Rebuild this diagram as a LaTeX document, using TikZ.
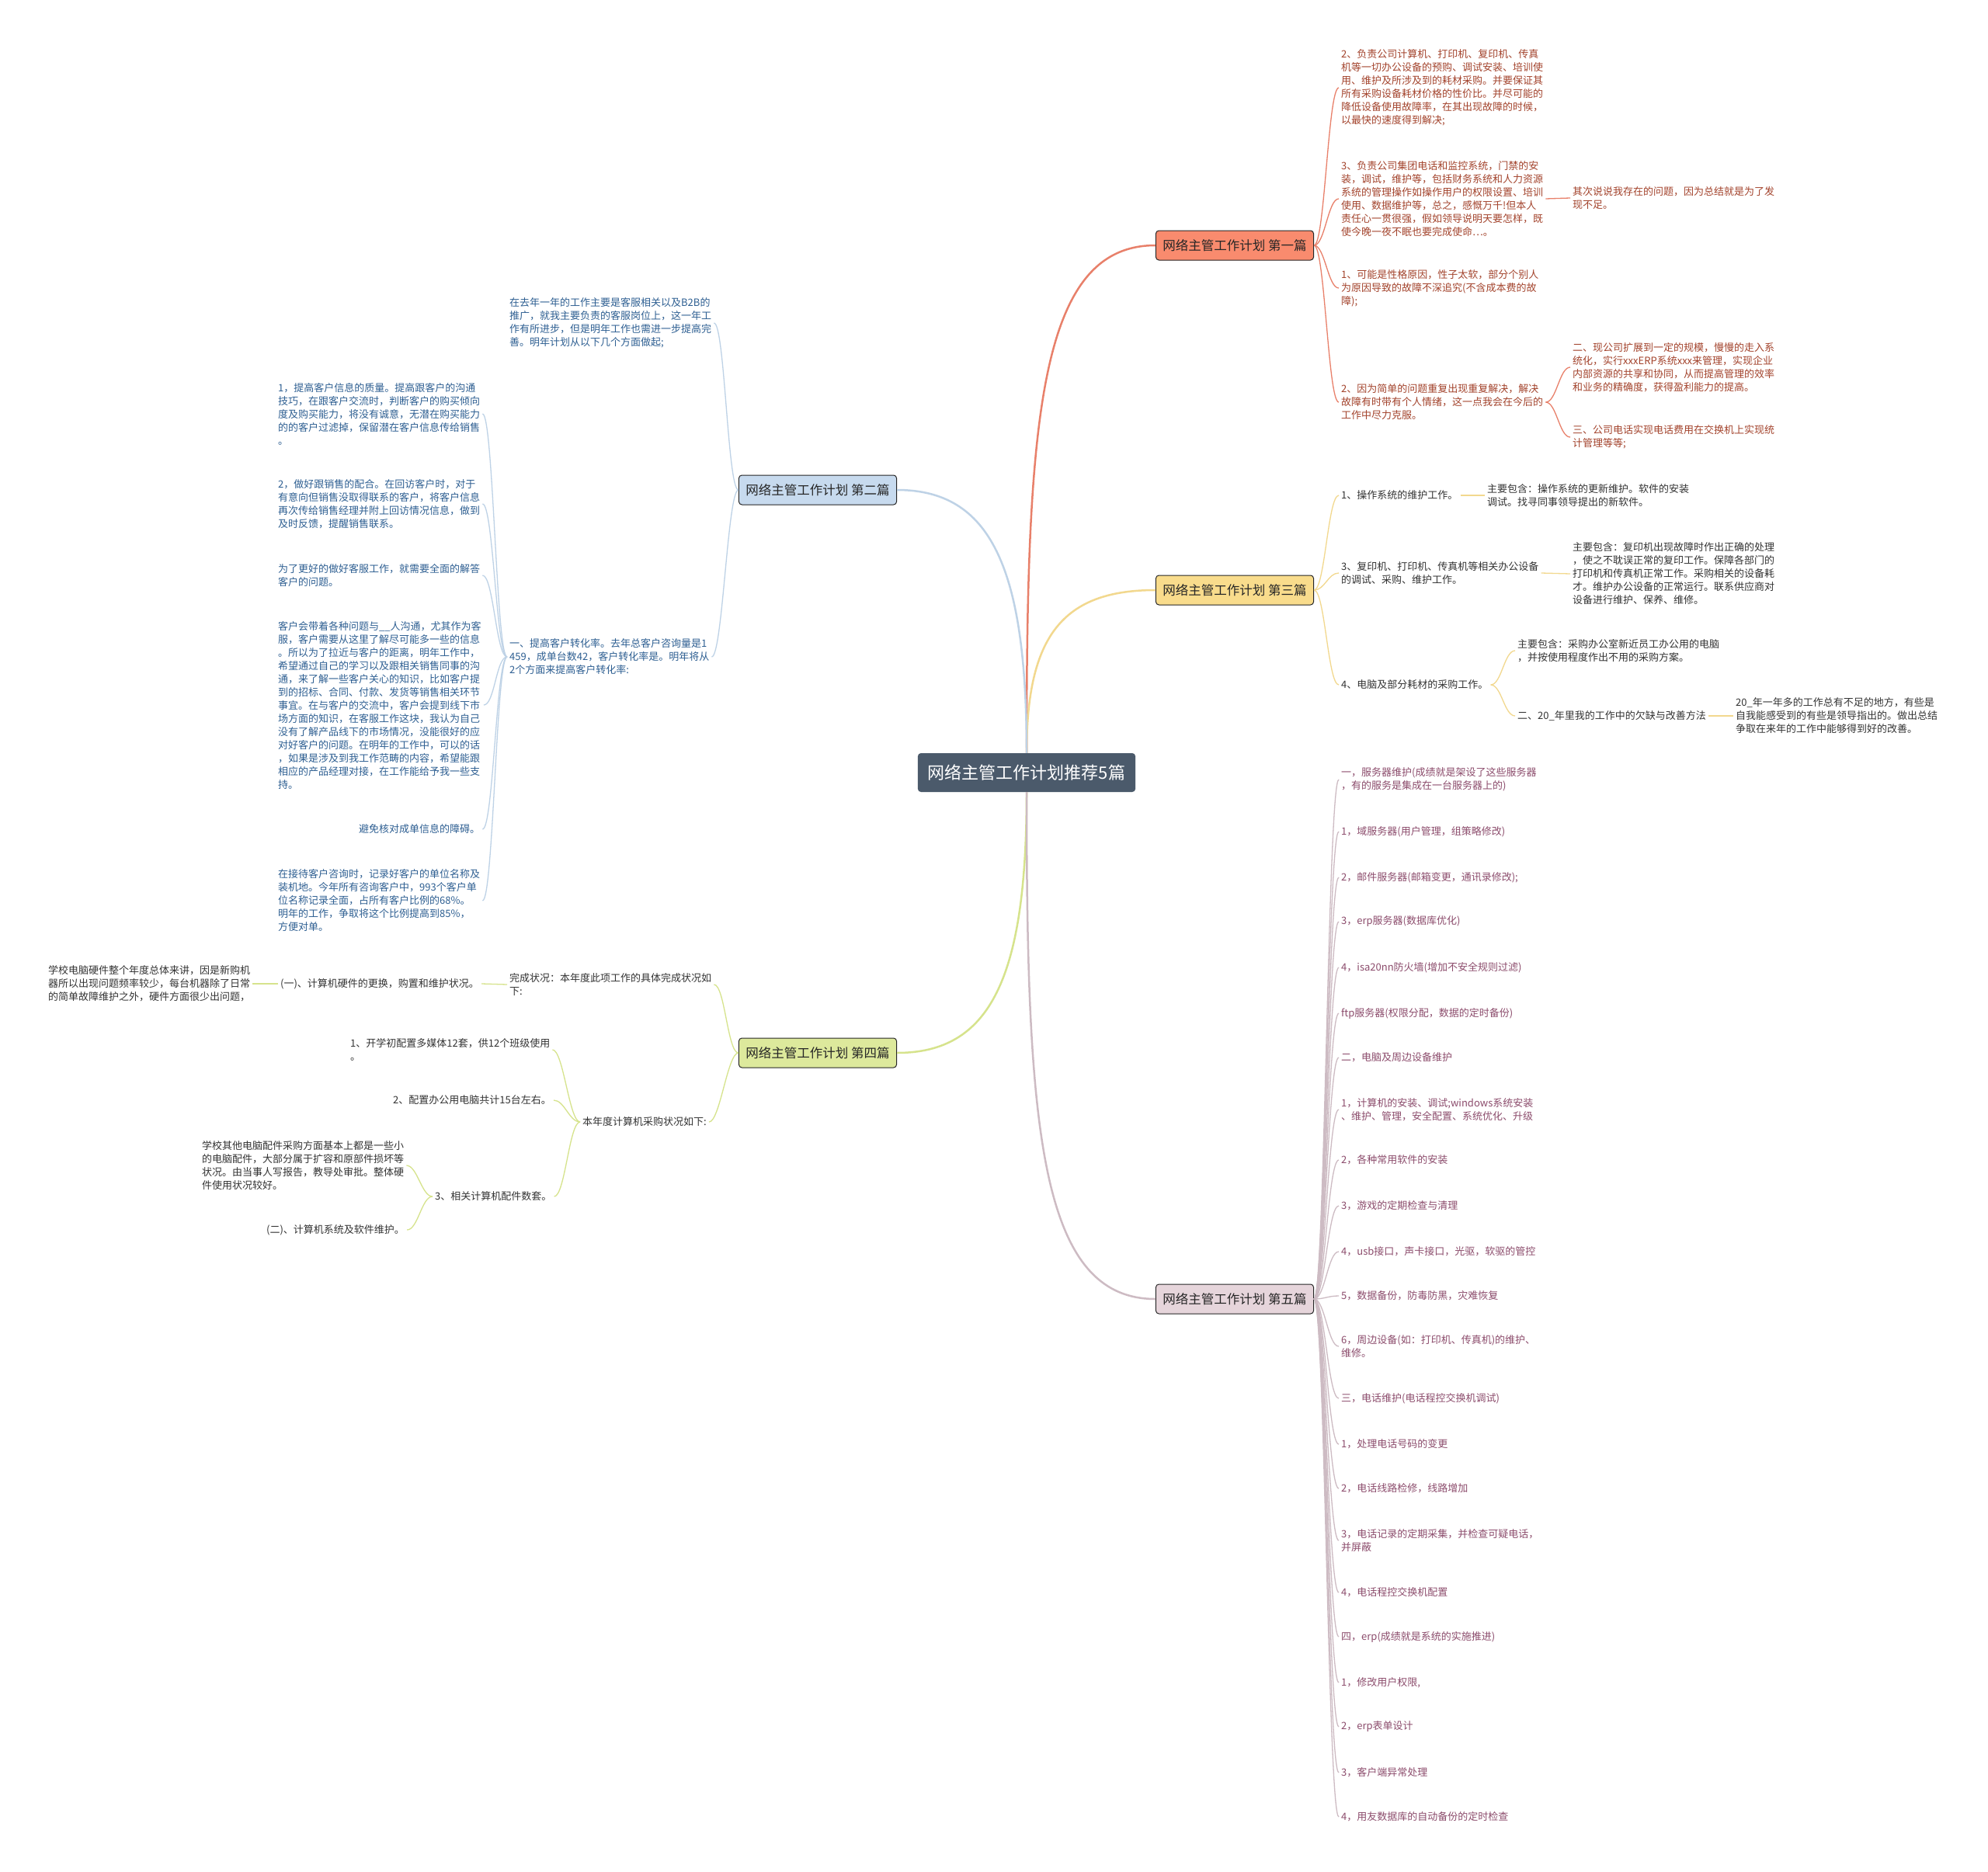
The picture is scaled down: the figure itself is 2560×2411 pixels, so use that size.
\documentclass[tikz,border=0pt]{standalone}
\usepackage{fontspec}
\newfontfamily\cjk{Noto Sans CJK SC}
\usetikzlibrary{positioning,calc}

\definecolor{rootfill}{HTML}{4B5A6B}
\definecolor{onefill}{HTML}{F98B6E}
\definecolor{twofill}{HTML}{C7DAEE}
\definecolor{threefill}{HTML}{F9DC8C}
\definecolor{fourfill}{HTML}{DDE99C}
\definecolor{fivefill}{HTML}{E6D5DB}
\definecolor{oneline}{HTML}{E8806A}
\definecolor{twoline}{HTML}{BED2E6}
\definecolor{threeline}{HTML}{F2D88E}
\definecolor{fourline}{HTML}{D6E38C}
\definecolor{fiveline}{HTML}{CDBBC3}
\definecolor{onetext}{HTML}{A3432C}
\definecolor{twotext}{HTML}{2E5F92}
\definecolor{darktext}{HTML}{333333}
\definecolor{fivetext}{HTML}{8C4C6C}

\begin{document}
\begin{tikzpicture}[x=1pt, y=-1pt,
  every node/.style={font=\cjk},
  root/.style={fill=rootfill, text=white, rounded corners=4pt, minimum height=50pt, inner xsep=13pt, font=\cjk\fontsize{22}{26}\selectfont},
  topic/.style={draw=black!85, line width=1pt, rounded corners=4pt, minimum height=38pt, inner xsep=9pt, text=black!85, font=\cjk\fontsize{16.5}{20}\selectfont},
  leaf/.style={align=left, inner sep=3pt, anchor=west, font=\cjk\fontsize{13}{17}\selectfont},
  oneleaf/.style={leaf, text=onetext},
  twoleaf/.style={leaf, text=twotext},
  darkleaf/.style={leaf, text=darktext},
  fiveleaf/.style={leaf, text=fivetext},
  main/.style={line width=2.5pt},
  twig/.style={line width=1.3pt},
]
\useasboundingbox[fill=white] (0,0) rectangle (2560,2411);

% centre and the five topics
\node[root] (root) at (1322,995) {网络主管工作计划推荐5篇};
\node[topic, fill=onefill] (one) at (1590,316) {网络主管工作计划 第一篇};
\node[topic, fill=twofill] (two) at (1053,631) {网络主管工作计划 第二篇};
\node[topic, fill=threefill] (three) at (1590,760) {网络主管工作计划 第三篇};
\node[topic, fill=fourfill] (four) at (1053,1356) {网络主管工作计划 第四篇};
\node[topic, fill=fivefill] (five) at (1590,1673) {网络主管工作计划 第五篇};

\draw[oneline, main] (root.north) .. controls +(0,-430) and +(-150,0) .. (one.west);
\draw[threeline, main] (root.north) .. controls +(0,-150) and +(-120,0) .. (three.west);
\draw[twoline, main] (root.north) .. controls +(0,-240) and +(120,0) .. (two.east);
\draw[fourline, main] (root.south) .. controls +(0,240) and +(120,0) .. (four.east);
\draw[fiveline, main] (root.south) .. controls +(0,430) and +(-150,0) .. (five.west);

% first
\node[oneleaf] (duty2) at (1724,113) {2、负责公司计算机、打印机、复印机、传真\\机等一切办公设备的预购、调试安装、培训使\\用、维护及所涉及到的耗材采购。并要保证其\\所有采购设备耗材价格的性价比。并尽可能的\\降低设备使用故障率，在其出现故障的时候，\\以最快的速度得到解决;};
\node[oneleaf] (duty3) at (1724,256) {3、负责公司集团电话和监控系统，门禁的安\\装，调试，维护等，包括财务系统和人力资源\\系统的管理操作如操作用户的权限设置、培训\\使用、数据维护等，总之，感慨万千!但本人\\责任心一贯很强，假如领导说明天要怎样，既\\使今晚一夜不眠也要完成使命…。};
\node[oneleaf] (lack) at (2022,255) {其次说说我存在的问题，因为总结就是为了发\\现不足。};
\node[oneleaf] (soft) at (1724,371) {1、可能是性格原因，性子太软，部分个别人\\为原因导致的故障不深追究(不含成本费的故\\障);};
\node[oneleaf] (mood) at (1724,518) {2、因为简单的问题重复出现重复解决，解决\\故障有时带有个人情绪，这一点我会在今后的\\工作中尽力克服。};
\node[oneleaf] (erp) at (2022,473) {二、现公司扩展到一定的规模，慢慢的走入系\\统化，实行xxxERP系统xxx来管理，实现企业\\内部资源的共享和协同，从而提高管理的效率\\和业务的精确度，获得盈利能力的提高。};
\node[oneleaf] (phone) at (2022,563) {三、公司电话实现电话费用在交换机上实现统\\计管理等等;};

\draw[oneline, twig] (one.east) .. controls +(14,0) and +(-14,0) .. (duty2.west);
\draw[oneline, twig] (one.east) .. controls +(14,0) and +(-14,0) .. (duty3.west);
\draw[oneline, twig] (one.east) .. controls +(14,0) and +(-14,0) .. (soft.west);
\draw[oneline, twig] (one.east) .. controls +(14,0) and +(-14,0) .. (mood.west);
\draw[oneline, twig] (duty3.east) -- (lack.west);
\draw[oneline, twig] (mood.east) .. controls +(14,0) and +(-14,0) .. (erp.west);
\draw[oneline, twig] (mood.east) .. controls +(14,0) and +(-14,0) .. (phone.west);

% third
\node[darkleaf] (os) at (1724,638) {1、操作系统的维护工作。};
\node[darkleaf] (osx) at (1912,638) {主要包含：操作系统的更新维护。软件的安装\\调试。找寻同事领导提出的新软件。};
\node[darkleaf] (copier) at (1724,738) {3、复印机、打印机、传真机等相关办公设备\\的调试、采购、维护工作。};
\node[darkleaf] (copierx) at (2022,739) {主要包含：复印机出现故障时作出正确的处理\\，使之不耽误正常的复印工作。保障各部门的\\打印机和传真机正常工作。采购相关的设备耗\\才。维护办公设备的正常运行。联系供应商对\\设备进行维护、保养、维修。};
\node[darkleaf] (buy) at (1724,882) {4、电脑及部分耗材的采购工作。};
\node[darkleaf] (buyx) at (1951,838) {主要包含：采购办公室新近员工办公用的电脑\\，并按使用程度作出不用的采购方案。};
\node[darkleaf] (fix) at (1951,922) {二、20\_年里我的工作中的欠缺与改善方法};
\node[darkleaf] (fixx) at (2232,922) {20\_年一年多的工作总有不足的地方，有些是\\自我能感受到的有些是领导指出的。做出总结\\争取在来年的工作中能够得到好的改善。};

\draw[threeline, twig] (three.east) .. controls +(14,0) and +(-14,0) .. (os.west);
\draw[threeline, twig] (three.east) .. controls +(14,0) and +(-14,0) .. (copier.west);
\draw[threeline, twig] (three.east) .. controls +(14,0) and +(-14,0) .. (buy.west);
\draw[threeline, twig] (os.east) -- (osx.west);
\draw[threeline, twig] (copier.east) -- (copierx.west);
\draw[threeline, twig] (buy.east) .. controls +(14,0) and +(-14,0) .. (buyx.west);
\draw[threeline, twig] (buy.east) .. controls +(14,0) and +(-14,0) .. (fix.west);
\draw[threeline, twig] (fix.east) -- (fixx.west);

% second
\node[twoleaf] (lastyear) at (653,416) {在去年一年的工作主要是客服相关以及B2B的\\推广，就我主要负责的客服岗位上，这一年工\\作有所进步，但是明年工作也需进一步提高完\\善。明年计划从以下几个方面做起;};
\node[twoleaf] (rate) at (653,846) {一、提高客户转化率。去年总客户咨询量是1\\459，成单台数42，客户转化率是。明年将从\\2个方面来提高客户转化率:};
\node[twoleaf] (quality) at (355,533) {1，提高客户信息的质量。提高跟客户的沟通\\技巧，在跟客户交流时，判断客户的购买倾向\\度及购买能力，将没有诚意，无潜在购买能力\\的的客户过滤掉，保留潜在客户信息传给销售\\。};
\node[twoleaf] (sales) at (355,649) {2，做好跟销售的配合。在回访客户时，对于\\有意向但销售没取得联系的客户，将客户信息\\再次传给销售经理并附上回访情况信息，做到\\及时反馈，提醒销售联系。};
\node[twoleaf] (answer) at (355,741) {为了更好的做好客服工作，就需要全面的解答\\客户的问题。};
\node[twoleaf] (talk) at (355,908) {客户会带着各种问题与\_\_人沟通，尤其作为客\\服，客户需要从这里了解尽可能多一些的信息\\。所以为了拉近与客户的距离，明年工作中，\\希望通过自己的学习以及跟相关销售同事的沟\\通，来了解一些客户关心的知识，比如客户提\\到的招标、合同、付款、发货等销售相关环节\\事宜。在与客户的交流中，客户会提到线下市\\场方面的知识，在客服工作这块，我认为自己\\没有了解产品线下的市场情况，没能很好的应\\对好客户的问题。在明年的工作中，可以的话\\，如果是涉及到我工作范畴的内容，希望能跟\\相应的产品经理对接，在工作能给予我一些支\\持。};
\node[twoleaf] (check) at (459,1068) {避免核对成单信息的障碍。};
\node[twoleaf] (record) at (355,1160) {在接待客户咨询时，记录好客户的单位名称及\\装机地。今年所有咨询客户中，993个客户单\\位名称记录全面，占所有客户比例的68\%。\\明年的工作，争取将这个比例提高到85\%，\\方便对单。};

\draw[twoline, twig] (two.west) .. controls +(-14,0) and +(14,0) .. (lastyear.east);
\draw[twoline, twig] (two.west) .. controls +(-14,0) and +(14,0) .. (rate.east);
\draw[twoline, twig] (rate.west) .. controls +(-14,0) and +(14,0) .. (quality.east);
\draw[twoline, twig] (rate.west) .. controls +(-14,0) and +(14,0) .. (sales.east);
\draw[twoline, twig] (rate.west) .. controls +(-14,0) and +(14,0) .. (answer.east);
\draw[twoline, twig] (rate.west) .. controls +(-14,0) and +(14,0) .. (talk.east);
\draw[twoline, twig] (rate.west) .. controls +(-14,0) and +(14,0) .. (check.east);
\draw[twoline, twig] (rate.west) .. controls +(-14,0) and +(14,0) .. (record.east);

% fourth
\node[darkleaf] (done) at (653,1268) {完成状况：本年度此项工作的具体完成状况如\\下:};
\node[darkleaf] (hard) at (358,1267) {(一)、计算机硬件的更换，购置和维护状况。};
\node[darkleaf] (hardx) at (59,1267) {学校电脑硬件整个年度总体来讲，因是新购机\\器所以出现问题频率较少，每台机器除了日常\\的简单故障维护之外，硬件方面很少出问题，};
\node[darkleaf] (purchase) at (747,1445) {本年度计算机采购状况如下:};
\node[darkleaf] (media) at (448,1352) {1、开学初配置多媒体12套，供12个班级使用\\。};
\node[darkleaf] (office) at (503,1417) {2、配置办公用电脑共计15台左右。};
\node[darkleaf] (parts) at (557,1541) {3、相关计算机配件数套。};
\node[darkleaf] (partsx) at (257,1501) {学校其他电脑配件采购方面基本上都是一些小\\的电脑配件，大部分属于扩容和原部件损坏等\\状况。由当事人写报告，教导处审批。整体硬\\件使用状况较好。};
\node[darkleaf] (system) at (340,1584) {(二)、计算机系统及软件维护。};

\draw[fourline, twig] (four.west) .. controls +(-14,0) and +(14,0) .. (done.east);
\draw[fourline, twig] (four.west) .. controls +(-14,0) and +(14,0) .. (purchase.east);
\draw[fourline, twig] (done.west) -- (hard.east);
\draw[fourline, twig] (hard.west) -- (hardx.east);
\draw[fourline, twig] (purchase.west) .. controls +(-14,0) and +(14,0) .. (media.east);
\draw[fourline, twig] (purchase.west) .. controls +(-14,0) and +(14,0) .. (office.east);
\draw[fourline, twig] (purchase.west) .. controls +(-14,0) and +(14,0) .. (parts.east);
\draw[fourline, twig] (parts.west) .. controls +(-14,0) and +(14,0) .. (partsx.east);
\draw[fourline, twig] (parts.west) .. controls +(-14,0) and +(14,0) .. (system.east);

% fifth
\node[fiveleaf] (e1) at (1724,1004) {一，服务器维护(成绩就是架设了这些服务器\\，有的服务是集成在一台服务器上的)};
\node[fiveleaf] (e2) at (1724,1071) {1，域服务器(用户管理，组策略修改)};
\node[fiveleaf] (e3) at (1724,1130) {2，邮件服务器(邮箱变更，通讯录修改);};
\node[fiveleaf] (e4) at (1724,1187) {3，erp服务器(数据库优化)};
\node[fiveleaf] (e5) at (1724,1246) {4，isa20nn防火墙(增加不安全规则过滤)};
\node[fiveleaf] (e6) at (1724,1305) {ftp服务器(权限分配，数据的定时备份)};
\node[fiveleaf] (e7) at (1724,1362) {二，电脑及周边设备维护};
\node[fiveleaf] (e8) at (1724,1429) {1，计算机的安装、调试;windows系统安装\\、维护、管理，安全配置、系统优化、升级};
\node[fiveleaf] (e9) at (1724,1494) {2，各种常用软件的安装};
\node[fiveleaf] (e10) at (1724,1553) {3，游戏的定期检查与清理};
\node[fiveleaf] (e11) at (1724,1612) {4，usb接口，声卡接口，光驱，软驱的管控};
\node[fiveleaf] (e12) at (1724,1669) {5，数据备份，防毒防黑，灾难恢复};
\node[fiveleaf] (e13) at (1724,1734) {6，周边设备(如：打印机、传真机)的维护、\\维修。};
\node[fiveleaf] (e14) at (1724,1801) {三，电话维护(电话程控交换机调试)};
\node[fiveleaf] (e15) at (1724,1860) {1，处理电话号码的变更};
\node[fiveleaf] (e16) at (1724,1917) {2，电话线路检修，线路增加};
\node[fiveleaf] (e17) at (1724,1984) {3，电话记录的定期采集，并检查可疑电话，\\并屏蔽};
\node[fiveleaf] (e18) at (1724,2051) {4，电话程控交换机配置};
\node[fiveleaf] (e19) at (1724,2108) {四，erp(成绩就是系统的实施推进)};
\node[fiveleaf] (e20) at (1724,2167) {1，修改用户权限,};
\node[fiveleaf] (e21) at (1724,2224) {2，erp表单设计};
\node[fiveleaf] (e22) at (1724,2283) {3，客户端异常处理};
\node[fiveleaf] (e23) at (1724,2340) {4，用友数据库的自动备份的定时检查};

\foreach \i in {1,...,23}
  \draw[fiveline, twig] (five.east) .. controls +(14,0) and +(-14,0) .. (e\i.west);

\end{tikzpicture}
\end{document}
